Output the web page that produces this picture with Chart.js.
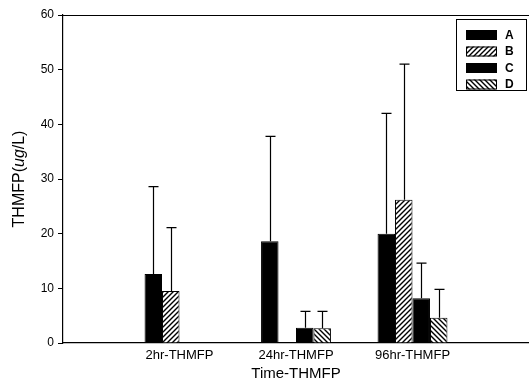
<!DOCTYPE html>
<html>
<head>
<meta charset="utf-8">
<script src="https://cdn.jsdelivr.net/npm/chart.js@4.4.1/dist/chart.umd.min.js"></script>
<style>
  html, body { margin: 0; padding: 0; background: #fff; overflow: hidden; }
  #wrap { width: 529px; height: 383px; overflow: hidden; }
</style>
</head>
<body>
<div id="wrap"><canvas id="chart" width="534" height="383"></canvas></div>
<script>
// categories (blank ends give the spacing of the original axis)
const categories = ['', '2hr-THMFP', '24hr-THMFP', '96hr-THMFP', ''];
const seriesNames = ['A', 'B', 'C', 'D'];
const valuesA = [null, 12.6, 18.6, 20.0, null];
const valuesB = [null, 9.5, null, 26.2, null];
const valuesC = [null, null, 2.8, 8.2, null];
const valuesD = [null, null, 2.7, 4.6, null];
// upper error bar (added to the bar value)
const errorsA = [null, 16.0, 19.2, 22.0, null];
const errorsB = [null, 11.6, null, 24.8, null];
const errorsC = [null, null, 3.0, 6.4, null];
const errorsD = [null, null, 3.1, 5.2, null];
const yTicks = [0, 10, 20, 30, 40, 50, 60];

const FONT = '"Liberation Sans", Arial, sans-serif';

function hatch(dir) {
  const c = document.createElement('canvas');
  c.width = 5; c.height = 5;
  const g = c.getContext('2d');
  g.fillStyle = '#fff';
  g.fillRect(0, 0, 5, 5);
  g.strokeStyle = '#000';
  g.lineWidth = 1.4;
  g.beginPath();
  if (dir > 0) {
    g.moveTo(-1, 6); g.lineTo(6, -1);
    g.moveTo(-1, 1); g.lineTo(1, -1);
    g.moveTo(4, 6); g.lineTo(6, 4);
  } else {
    g.moveTo(-1, -1); g.lineTo(6, 6);
    g.moveTo(4, -1); g.lineTo(6, 1);
    g.moveTo(-1, 4); g.lineTo(1, 6);
  }
  g.stroke();
  return g.createPattern(c, 'repeat');
}

const fills = ['#000', hatch(1), '#000', hatch(-1)];
const values = [valuesA, valuesB, valuesC, valuesD];
const errors = [errorsA, errorsB, errorsC, errorsD];

const errorBars = {
  id: 'errorBars',
  afterDatasetsDraw(chart) {
    const ctx = chart.ctx;
    const y = chart.scales.y;
    ctx.save();
    ctx.strokeStyle = '#000';
    ctx.lineWidth = 1.2;
    chart.data.datasets.forEach((ds, i) => {
      const meta = chart.getDatasetMeta(i);
      ds.data.forEach((v, j) => {
        const e = errors[i][j];
        if (v == null || e == null) return;
        const bar = meta.data[j];
        const x = Math.round(bar.x) + 0.5;
        const top = y.getPixelForValue(v + e);
        ctx.beginPath();
        ctx.moveTo(x, bar.y);
        ctx.lineTo(x, top);
        ctx.moveTo(x - 5, top);
        ctx.lineTo(x + 5, top);
        ctx.stroke();
      });
    });
    ctx.restore();
  }
};

const decor = {
  id: 'decor',
  afterDraw(chart) {
    const ctx = chart.ctx;
    const a = chart.chartArea;
    ctx.save();
    // top frame line
    ctx.strokeStyle = '#000';
    ctx.lineWidth = 1.2;
    ctx.beginPath();
    ctx.moveTo(a.left, a.top + 0.5);
    ctx.lineTo(chart.width, a.top + 0.5);
    ctx.stroke();

    // legend box
    ctx.lineWidth = 1;
    ctx.strokeRect(456.5, 19.5, 70, 71);
    ctx.font = 'bold 12px ' + FONT;
    ctx.textBaseline = 'middle';
    chart.data.datasets.forEach((ds, i) => {
      const yy = 35 + i * 16.5;
      ctx.fillStyle = ds.backgroundColor;
      ctx.fillRect(466, yy - 5, 31, 10);
      ctx.strokeRect(466.5, yy - 4.5, 30, 9);
      ctx.fillStyle = '#000';
      ctx.fillText(ds.label, 505, yy + 0.5);
    });

    // y title with italic unit
    ctx.translate(20, (a.top + a.bottom) / 2);
    ctx.rotate(-Math.PI / 2);
    const parts = [['THMFP(', ''], ['ug', 'italic '], ['/L)', '']];
    let total = 0;
    parts.forEach(p => {
      ctx.font = p[1] + '16px ' + FONT;
      total += ctx.measureText(p[0]).width;
    });
    let xx = -total / 2;
    ctx.textAlign = 'left';
    ctx.fillStyle = '#000';
    parts.forEach(p => {
      ctx.font = p[1] + '16px ' + FONT;
      ctx.fillText(p[0], xx, 0);
      xx += ctx.measureText(p[0]).width;
    });
    ctx.restore();
  }
};

new Chart(document.getElementById('chart'), {
  type: 'bar',
  data: {
    labels: categories,
    datasets: seriesNames.map((name, i) => ({
      label: name,
      data: values[i],
      backgroundColor: fills[i],
      borderColor: '#000',
      borderWidth: 1,
      categoryPercentage: 0.6,
      barPercentage: 1.0,
      skipNull: false
    }))
  },
  options: {
    responsive: false,
    animation: false,
    layout: { autoPadding: false, padding: { top: 15, right: 0, left: 0, bottom: 0 } },
    plugins: { legend: { display: false }, tooltip: { enabled: false } },
    scales: {
      x: {
        offset: false,
        grid: { display: false, drawTicks: false },
        border: { display: true, color: '#000', width: 1.2 },
        ticks: {
          color: '#000',
          font: { family: FONT, size: 13 },
          padding: 5,
          maxRotation: 0,
          autoSkip: false
        },
        title: {
          display: true,
          text: 'Time-THMFP',
          color: '#000',
          font: { family: FONT, size: 15 },
          padding: { top: 1, bottom: 0 }
        },
        afterFit(s) { s.height = 40; }
      },
      y: {
        min: 0,
        max: 60,
        afterBuildTicks(s) { s.ticks = yTicks.map(v => ({ value: v })); },
        grid: { display: true, drawOnChartArea: false, drawTicks: true, tickLength: 5, color: '#000', lineWidth: 1 },
        border: { display: true, color: '#000', width: 1.2 },
        ticks: {
          color: '#000',
          font: { family: FONT, size: 12 },
          padding: 4
        },
        afterFit(s) { s.width = 63; }
      }
    }
  },
  plugins: [errorBars, decor]
});
</script>
</body>
</html>
